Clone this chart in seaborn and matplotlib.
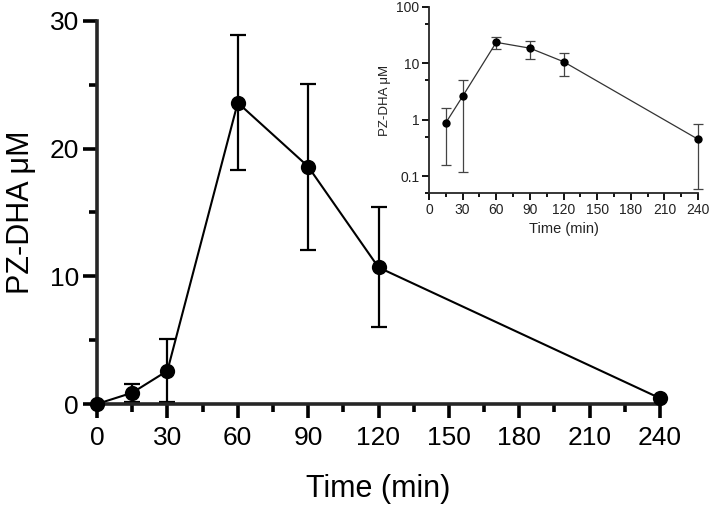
import matplotlib
matplotlib.use("Agg")
import matplotlib.pyplot as plt
import seaborn as sns
import numpy as np
import pandas as pd
from matplotlib.ticker import FixedLocator, NullFormatter

# ---- data ----
time_min = [0, 15, 30, 60, 90, 120, 240]
pz_dha_mean = [0.0, 0.88, 2.6, 23.6, 18.6, 10.7, 0.45]
pz_dha_sd = [0.0, 0.72, 2.48, 5.3, 6.5, 4.7, 0.39]

main_xticks = [0, 30, 60, 90, 120, 150, 180, 210, 240]
main_yticks = [0, 10, 20, 30]
inset_yticks = [0.1, 1, 10, 100]
inset_yticklabels = ["0.1", "1", "10", "100"]

sns.set_style("ticks")
plt.rcParams["font.family"] = ["Liberation Sans", "DejaVu Sans"]

df = pd.DataFrame({"time": time_min, "mean": pz_dha_mean, "sd": pz_dha_sd})
df_log = df[df["time"] > 0]
# Prism-style: error bars shorter than the symbol are not drawn on the linear plot
df_err = df[df["sd"] > 0.5]

fig = plt.figure(figsize=(7.12, 5.09), dpi=100)

# ---------------- main axes ----------------
ax = fig.add_axes([97 / 712, 1 - 404 / 509, (660 - 97) / 712, (404 - 21) / 509])
ax.errorbar(df_err["time"], df_err["mean"], yerr=df_err["sd"], fmt="none", ecolor="black",
            elinewidth=1.6, capsize=6, capthick=1.6, clip_on=False, zorder=2)
sns.lineplot(data=df, x="time", y="mean", ax=ax, color="black", linewidth=1.5,
             marker="o", markersize=11, markeredgewidth=0, clip_on=False, zorder=3)
ax.set_xlim(0, 240)
ax.set_ylim(0, 30)
sns.despine(ax=ax)
for s in ("left", "bottom"):
    ax.spines[s].set_linewidth(2.6)
ax.set_xticks(main_xticks)
ax.set_yticks(main_yticks)
ax.xaxis.set_minor_locator(FixedLocator([15, 45, 75, 105, 135, 165, 195, 225]))
ax.yaxis.set_minor_locator(FixedLocator([5, 15, 25]))
ax.tick_params(axis="both", which="major", direction="out", length=10, width=2.6,
               labelsize=19, color="black", labelcolor="black")
ax.tick_params(axis="both", which="minor", direction="out", length=6, width=2.6, color="black")
ax.tick_params(axis="x", which="major", pad=6)
ax.tick_params(axis="y", which="major", pad=3)
ax.set_xlabel("Time (min)", fontsize=22, labelpad=17, color="black")
ax.set_ylabel("PZ-DHA μM", fontsize=22, labelpad=10, color="black")

# ---------------- inset axes ----------------
axi = fig.add_axes([429 / 712, 1 - 193 / 509, (698 - 429) / 712, (193 - 7) / 509])
axi.errorbar(df_log["time"], df_log["mean"], yerr=df_log["sd"], fmt="none",
             ecolor="#444444", elinewidth=0.9, capsize=3.5, capthick=0.9,
             clip_on=False, zorder=2)
sns.lineplot(data=df_log, x="time", y="mean", ax=axi, color="#333333", linewidth=0.9,
             marker="o", markersize=6, markeredgewidth=0, markerfacecolor="black",
             clip_on=False, zorder=3)
axi.set_yscale("log")
axi.set_xlim(0, 240)
axi.set_ylim(0.05, 100)
sns.despine(ax=axi)
axi.patch.set_alpha(0)
for s in ("left", "bottom"):
    axi.spines[s].set_linewidth(1.3)
axi.set_xticks(main_xticks)
axi.xaxis.set_minor_locator(FixedLocator([15, 45, 75, 105, 135, 165, 195, 225]))
axi.yaxis.set_major_locator(FixedLocator(inset_yticks))
axi.set_yticklabels(inset_yticklabels)
axi.yaxis.set_minor_locator(FixedLocator([0.05, 0.5, 5, 50]))
axi.yaxis.set_minor_formatter(NullFormatter())
axi.tick_params(axis="both", which="major", direction="out", length=5, width=1.3,
                labelsize=10, color="black", labelcolor="#222222", pad=2)
axi.tick_params(axis="both", which="minor", direction="out", length=3, width=1.3, color="black")
axi.set_xlabel("Time (min)", fontsize=10.5, labelpad=4, color="#222222")
axi.set_ylabel("PZ-DHA μM", fontsize=9.5, labelpad=4, color="#222222")

fig.savefig("out.png", dpi=100)
